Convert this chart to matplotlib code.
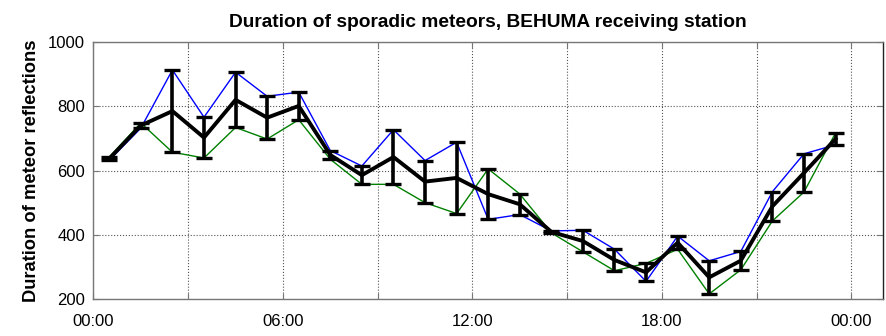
import numpy as np
import matplotlib
matplotlib.use("Agg")
import matplotlib.pyplot as plt

plt.rcParams['font.family'] = ['Liberation Sans', 'DejaVu Sans']

# hour of day (bin centres)
hours = [0.5, 1.5, 2.5, 3.5, 4.5, 5.5, 6.5, 7.5, 8.5, 9.5, 10.5, 11.5,
         12.5, 13.5, 14.5, 15.5, 16.5, 17.5, 18.5, 19.5, 20.5, 21.5, 22.5, 23.5]

# two independent estimates of the mean duration
series_a = [632, 732, 913, 766, 906, 831, 844, 662, 614, 727, 631, 688,
            448, 463, 412, 414, 355, 255, 396, 319, 348, 534, 652, 680]
series_b = [642, 748, 657, 639, 734, 698, 758, 635, 557, 557, 500, 466,
            605, 527, 406, 347, 288, 311, 355, 216, 291, 443, 533, 717]

xtick_pos = [0, 3, 6, 9, 12, 15, 18, 21, 24]
xtick_labels = ['00:00', '', '06:00', '', '12:00', '', '18:00', '', '00:00']
ytick_pos = [200, 400, 600, 800, 1000]

a = np.array(series_a, dtype=float)
b = np.array(series_b, dtype=float)
mean = (a + b) / 2
spread = np.abs(a - b) / 2

fig = plt.figure(figsize=(8.86, 3.36), dpi=100)
ax = fig.add_axes([0.1055, 0.110, 0.891, 0.765])

ax.plot(hours, series_a, color='#0000ff', lw=1.0, zorder=2)
ax.plot(hours, series_b, color='#008000', lw=1.0, zorder=3)
ax.errorbar(hours, mean, yerr=spread, color='black', lw=2.8, elinewidth=2.6,
            capsize=5.5, capthick=2.4, zorder=4)

ax.set_xlim(0, 25)
ax.set_ylim(200, 1000)
ax.set_xticks(xtick_pos)
ax.set_xticklabels(xtick_labels)
ax.set_yticks(ytick_pos)
ax.tick_params(direction='in', length=4, width=0.8, color='#777777',
               top=True, right=True, labelsize=12, pad=6)
ax.tick_params(axis='x', pad=11)
ax.grid(True, linestyle=':', color='#555555', lw=0.8)
for s in ax.spines.values():
    s.set_color('#777777')
    s.set_linewidth(1.0)
ax.spines['right'].set_color('#222222')

ax.set_title('Duration of sporadic meteors, BEHUMA receiving station',
             fontsize=13.8, fontweight='bold', pad=11)
ax.set_ylabel('Duration of meteor reflections', fontsize=13.2, fontweight='bold', labelpad=6)

fig.savefig('out.png', dpi=100)
